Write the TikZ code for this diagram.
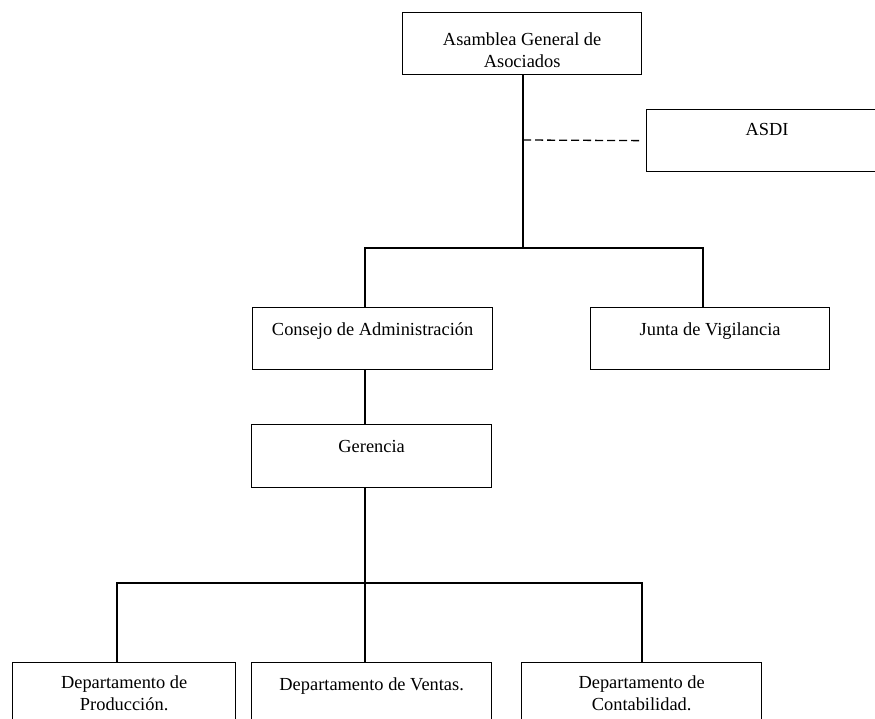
\documentclass[tikz,border=0pt]{standalone}
\usepackage{fontspec}
\setmainfont{Liberation Serif}
\begin{document}
\begin{tikzpicture}[x=1pt,y=-1pt,
  box/.style={draw, line width=1.3pt, rectangle, inner sep=0pt, anchor=north west},
  conn/.style={line width=1.3pt},
  dashline/.style={line width=1.3pt, dash pattern=on 8pt off 4pt},
  lbl/.style={anchor=base, inner sep=0pt, font=\fontsize{18.4}{22}\selectfont}]
  \useasboundingbox (0,0) rectangle (875,719);
  \clip (0,0) rectangle (875,719);

  % boxes
  \node[box, minimum width=239pt, minimum height=62pt] (top)   at (402,12)  {};
  \node[box, minimum width=241pt, minimum height=62pt] (asdi)  at (646,109) {};
  \node[box, minimum width=240pt, minimum height=62pt] (cons)  at (252,307) {};
  \node[box, minimum width=239pt, minimum height=62pt] (junta) at (590,307) {};
  \node[box, minimum width=240pt, minimum height=63pt] (ger)   at (251,424) {};
  \node[box, minimum width=223pt, minimum height=62pt] (prod)  at (12,662)  {};
  \node[box, minimum width=240pt, minimum height=62pt] (vent)  at (251,662) {};
  \node[box, minimum width=240pt, minimum height=62pt] (cont)  at (521,662) {};

  % labels
  \node[lbl] (tTop)   at ([yshift=-34pt]top.north)   {\begin{tabular}[t]{@{}c@{}}Asamblea General de\\Asociados\end{tabular}};
  \node[lbl] (tAsdi)  at ([yshift=-27pt]asdi.north)  {ASDI};
  \node[lbl] (tCons)  at ([yshift=-28pt]cons.north)  {Consejo de Administración};
  \node[lbl] (tJunta) at ([yshift=-28pt]junta.north) {Junta de Vigilancia};
  \node[lbl] (tGer)   at ([yshift=-28pt]ger.north)   {Gerencia};
  \node[lbl] (tProd)  at ([yshift=-26pt]prod.north)  {\begin{tabular}[t]{@{}c@{}}Departamento de\\Producción.\end{tabular}};
  \node[lbl] (tVent)  at ([yshift=-28pt]vent.north)  {Departamento de Ventas.};
  \node[lbl] (tCont)  at ([yshift=-26pt]cont.north)  {\begin{tabular}[t]{@{}c@{}}Departamento de\\Contabilidad.\end{tabular}};

  % junction points of the connectors
  \coordinate (trunk) at (523,248);
  \coordinate (b1L) at (365,248);
  \coordinate (b1R) at (703,248);
  \coordinate (dash0) at (523,140);
  \coordinate (b2L) at (117,583);
  \coordinate (b2M) at (365,583);
  \coordinate (b2R) at (642,583);

  % upper level
  \draw[conn] (top.south -| trunk) -- (trunk);
  \draw[dashline] (dash0) -- ([xshift=-4pt]asdi.west);
  \draw[conn] (cons.north -| b1L) -- (b1L) -- (b1R) -- (junta.north -| b1R);
  \draw[conn] (cons.south -| b1L) -- (ger.north -| b1L);

  % lower level
  \draw[conn] (ger.south -| b2M) -- (b2M);
  \draw[conn] (prod.north -| b2L) -- (b2L) -- (b2R) -- (cont.north -| b2R);
  \draw[conn] (b2M) -- (vent.north -| b2M);
\end{tikzpicture}
\end{document}
